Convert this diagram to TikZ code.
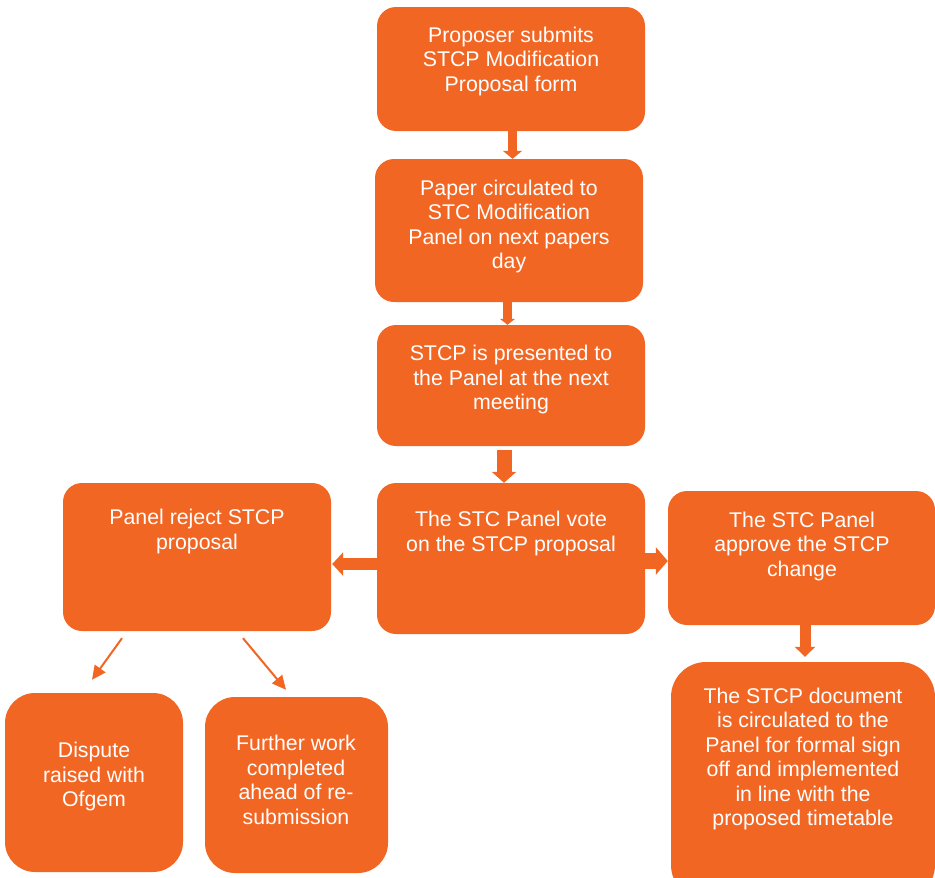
\documentclass[tikz,border=0pt]{standalone}
\usepackage{fontspec}
\setmainfont{Liberation Sans}
\usetikzlibrary{arrows.meta}
\definecolor{orng}{RGB}{242,102,36}
\tikzset{
  box/.style={fill=orng, draw=none, rounded corners=#1, inner sep=0pt},
  box/.default=19pt,
  txt/.style={text=white, align=center, inner sep=0pt, font=\fontsize{21.3}{24.5}\selectfont},
  barrow/.style={draw=orng, line cap=butt},
  thinarrow/.style={draw=orng, line width=2pt, -{Triangle[width=13pt,length=14pt]}}
}
\begin{document}
\begin{tikzpicture}[x=1pt,y=-1pt]
\useasboundingbox (0,0) rectangle (935,878);
% boxes
\node[box, minimum width=268, minimum height=124] (b1) at (511,69) {};
\node[box, minimum width=268, minimum height=143] (b2) at (509,230.5) {};
\node[box, minimum width=268, minimum height=121] (b3) at (511,385.5) {};
\node[box, minimum width=268, minimum height=151] (b4) at (511,558.5) {};
\node[box, minimum width=268, minimum height=148] (b5) at (197,557) {};
\node[box, minimum width=267, minimum height=134] (b6) at (801.5,558) {};
\node[box=35pt, minimum width=264, minimum height=238] (b7) at (803,781) {};
\node[box=30pt, minimum width=178, minimum height=179] (b8) at (94,782.5) {};
\node[box=30pt, minimum width=183, minimum height=176] (b9) at (296.5,785) {};
% texts
\node[txt] (t1) at (511,61) {Proposer submits\\STCP Modification\\Proposal form};
\node[txt] (t2) at (509,226.5) {Paper circulated to\\STC Modification\\Panel on next papers\\day};
\node[txt] (t3) at (511,379.5) {STCP is presented to\\the Panel at the next\\meeting};
\node[txt] (t4) at (511,533.5) {The STC Panel vote\\on the STCP proposal};
\node[txt] (t5) at (197,531.5) {Panel reject STCP\\proposal};
\node[txt] (t6) at (802,546) {The STC Panel\\approve the STCP\\change};
\node[txt] (t7) at (803,759) {The STCP document\\is circulated to the\\Panel for formal sign\\off and implemented\\in line with the\\proposed timetable};
\node[txt] (t8) at (94,776.5) {Dispute\\raised with\\Ofgem};
\node[txt] (t9) at (296,780) {Further work\\completed\\ahead of re-\\submission};
% block arrows
\draw[barrow, line width=9pt, -{Triangle[width=19pt,length=8pt]}]
  ([xshift=1.5pt]b1.south) -- ([xshift=3.5pt]b2.north);
\draw[barrow, line width=9pt, -{Triangle[width=15pt,length=6pt]}]
  ([xshift=-1.5pt]b2.south) -- ([xshift=-3.5pt]b3.north);
\draw[barrow, line width=15pt, -{Triangle[width=24pt,length=11pt]}, shorten <=4pt]
  ([xshift=-7pt]b3.south) -- ([xshift=-7pt]b4.north);
\draw[barrow, line width=12pt, -{Triangle[width=23pt,length=11pt]}, shorten >=1pt]
  ([yshift=-5.5pt]b4.west) -- ([yshift=-7pt]b5.east);
\draw[barrow, line width=16pt, -{Triangle[width=27pt,length=12pt]}]
  ([yshift=-2.5pt]b4.east) -- ([yshift=-3pt]b6.west);
\draw[barrow, line width=11pt, -{Triangle[width=20pt,length=10pt]}, shorten >=5pt]
  ([xshift=3.5pt]b6.south) -- ([xshift=2pt]b7.north);
% thin arrows
\draw[thinarrow] ([shift={(-75,7)}]b5.south) -- ([shift={(-2,-13)}]b8.north);
\draw[thinarrow] ([shift={(46,7)}]b5.south) -- ([shift={(-10.5,-7)}]b9.north);
\end{tikzpicture}
\end{document}
